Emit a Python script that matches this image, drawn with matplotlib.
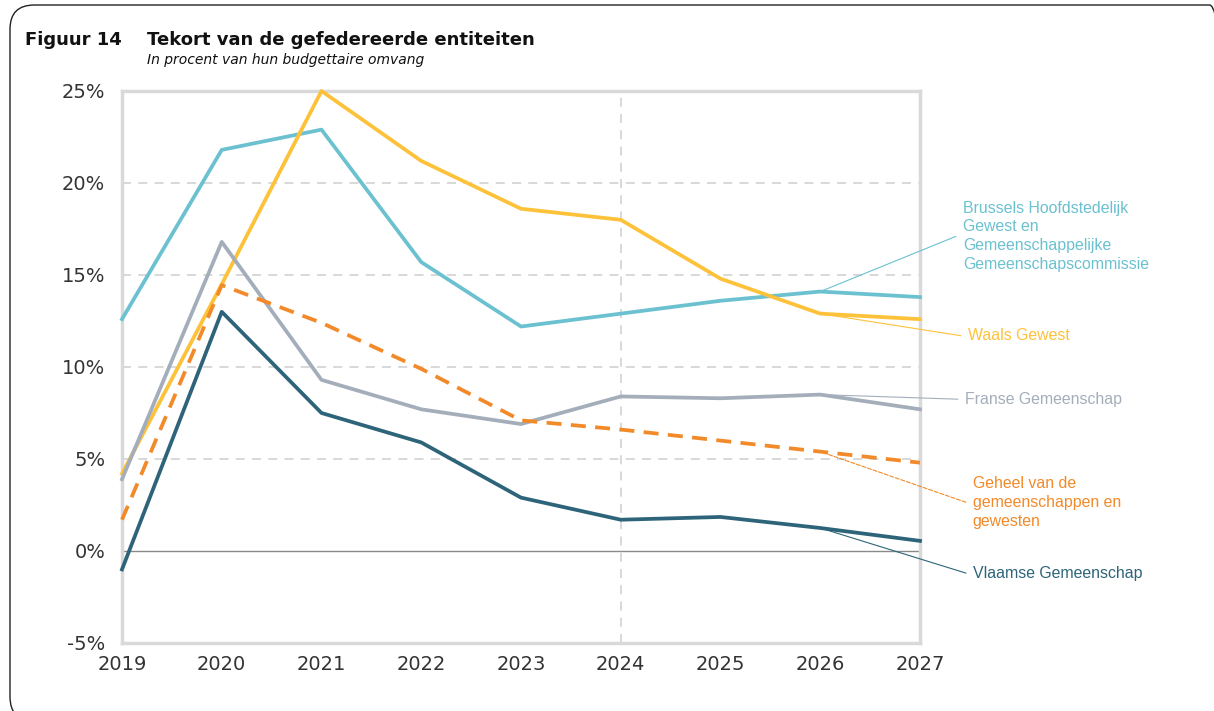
import matplotlib.pyplot as plt
from matplotlib.patches import FancyBboxPatch

years = [2019, 2020, 2021, 2022, 2023, 2024, 2025, 2026, 2027]
brussels = [12.6, 21.8, 22.9, 15.7, 12.2, 12.9, 13.6, 14.1, 13.8]
waals = [4.2, 14.5, 25.0, 21.2, 18.6, 18.0, 14.8, 12.9, 12.6]
franse = [3.9, 16.8, 9.3, 7.7, 6.9, 8.4, 8.3, 8.5, 7.7]
geheel = [1.7, 14.45, 12.4, 9.9, 7.1, 6.6, 6.0, 5.4, 4.8]
vlaamse = [-1.0, 13.0, 7.5, 5.9, 2.9, 1.7, 1.85, 1.25, 0.55]

yticks = [-5, 0, 5, 10, 15, 20, 25]
ytick_labels = ['-5%', '0%', '5%', '10%', '15%', '20%', '25%']

c_brus = '#6BC1D0'
c_waals = '#FDC23A'
c_franse = '#A4AEBB'
c_geheel = '#F28A2A'
c_vlaams = '#2E6479'

W, H = 1214, 711
fig = plt.figure(figsize=(W / 100, H / 100), dpi=100)
ax = fig.add_axes([122 / W, 1 - 643 / H, (920 - 122) / W, (643 - 91) / H])

# rounded frame, right and bottom sides fall just outside the picture
frame = FancyBboxPatch((10 / W, -10 / H), (1234 - 10) / W, (706 + 10) / H,
                       boxstyle='round,pad=0,rounding_size=0.02',
                       transform=fig.transFigure, fill=False,
                       edgecolor='#222222', lw=1.0, mutation_aspect=W / H)
fig.patches.append(frame)

fig.text(25 / W, 1 - 40 / H, 'Figuur 14', fontsize=13, fontweight='bold',
         va='center', ha='left', color='#111111')
fig.text(147 / W, 1 - 40 / H, 'Tekort van de gefedereerde entiteiten', fontsize=13,
         fontweight='bold', va='center', ha='left', color='#111111')
fig.text(147 / W, 1 - 60 / H, 'In procent van hun budgettaire omvang', fontsize=10,
         style='italic', va='center', ha='left', color='#111111')

lw = 2.7
ax.plot(years, brussels, color=c_brus, lw=lw, clip_on=False, zorder=3)
ax.plot(years, waals, color=c_waals, lw=lw, clip_on=False, zorder=3)
ax.plot(years, franse, color=c_franse, lw=lw, clip_on=False, zorder=3)
ax.plot(years, geheel, color=c_geheel, lw=lw, ls=(0, (4, 2.5)), clip_on=False, zorder=3)
ax.plot(years, vlaamse, color=c_vlaams, lw=lw, clip_on=False, zorder=4)

ax.set_xlim(2019, 2027)
ax.set_ylim(-5, 25)
ax.set_xticks(years)
ax.set_yticks(yticks)
ax.set_yticklabels(ytick_labels)
ax.tick_params(length=0, labelsize=14, colors='#333333')
ax.tick_params(axis='y', pad=12)
ax.tick_params(axis='x', pad=9)

for y in [5, 10, 15, 20]:
    ax.axhline(y, color='#d6d6d6', lw=1.3, ls=(0, (5, 4)), zorder=1)
ax.axvline(2024, color='#d6d6d6', lw=1.3, ls=(0, (5, 4)), zorder=1)
ax.axhline(0, color='#8a8a8a', lw=1.0, zorder=2)

for s in ax.spines.values():
    s.set_color('#d9d9d9')
    s.set_linewidth(2.5)

# labels with leader lines
labels = [
    ('Brussels Hoofdstedelijk\nGewest en\nGemeenschappelijke\nGemeenschapscommissie',
     brussels, 2027.43, 17.1, c_brus, '-'),
    ('Waals Gewest', waals, 2027.48, 11.7, c_waals, '-'),
    ('Franse Gemeenschap', franse, 2027.45, 8.25, c_franse, '-'),
    ('Geheel van de\ngemeenschappen en\ngewesten', geheel, 2027.53, 2.65, c_geheel, '--'),
    ('Vlaamse Gemeenschap', vlaamse, 2027.53, -1.2, c_vlaams, '-'),
]
for text, series, tx, ty, col, ls in labels:
    ax.annotate(text, xy=(years[7], series[7]), xytext=(tx, ty),
                textcoords='data', ha='left', va='center', fontsize=11.4,
                family='Liberation Sans', color=col, annotation_clip=False,
                linespacing=1.32,
                arrowprops=dict(arrowstyle='-', color=col, lw=0.8, ls=ls,
                                shrinkA=3, shrinkB=0, relpos=(0, 0.5),
                                connectionstyle='arc,angleA=180,armA=7,angleB=0,armB=0,rad=0'))

fig.savefig('out.png', dpi=100)
